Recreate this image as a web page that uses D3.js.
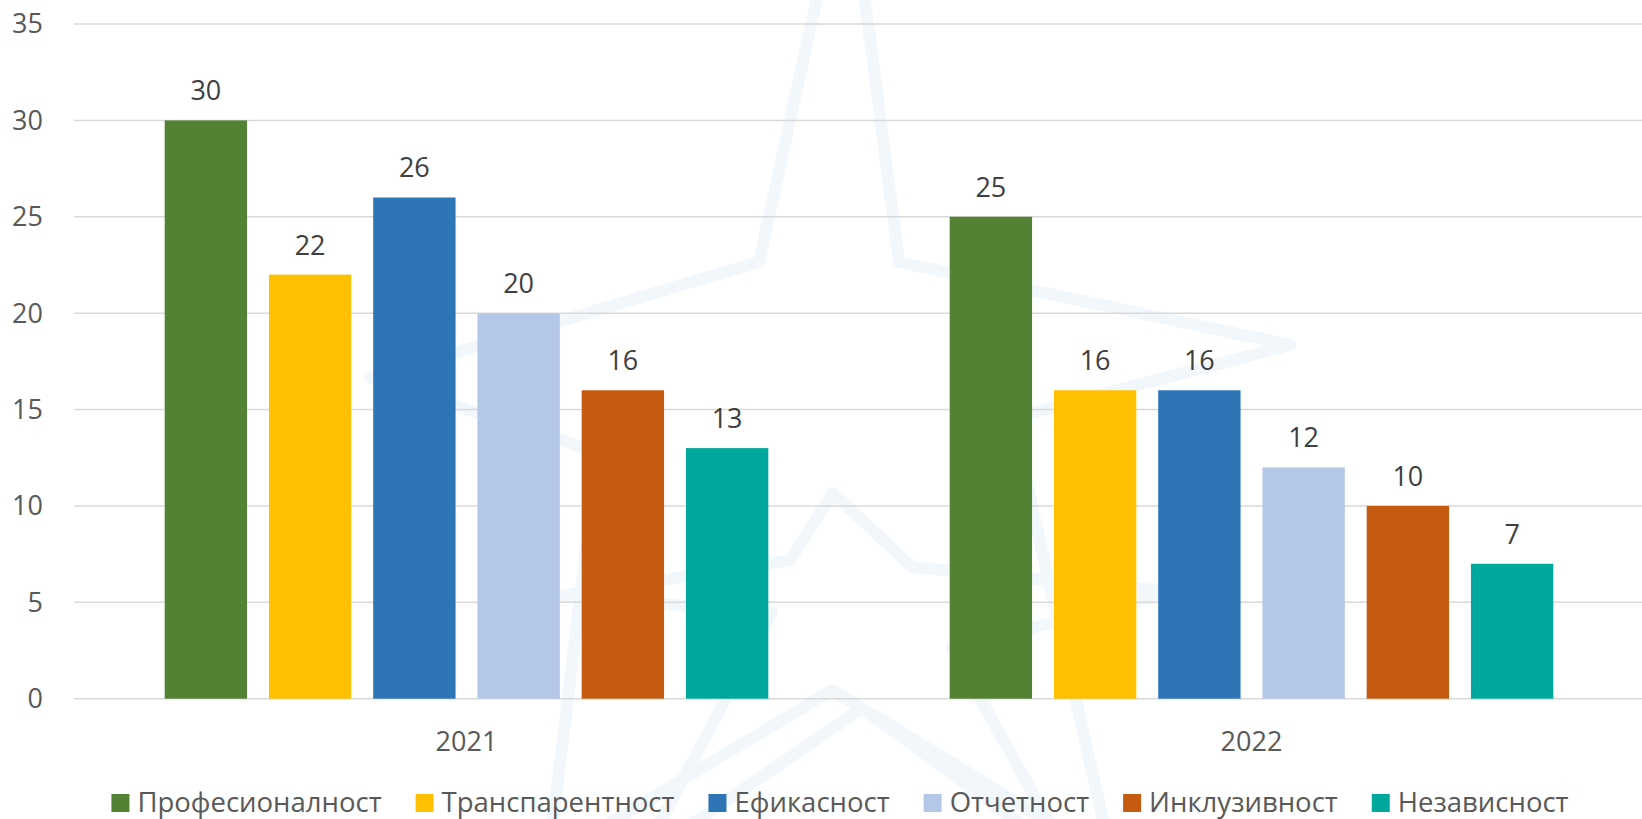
<!DOCTYPE html>
<html>
<head>
<meta charset="utf-8">
<script src="https://cdn.jsdelivr.net/npm/d3@7"></script>
<style>
  html, body { margin: 0; padding: 0; background: #fff; }
  svg { display: block; font-family: 'Open Sans', 'Noto Sans', sans-serif; }
</style>
</head>
<body>
<svg id="chart"></svg>
<script>
const years = ['2021', '2022'];
const seriesNames = ['Професионалност', 'Транспарентност', 'Ефикасност', 'Отчетност', 'Инклузивност', 'Независност'];
const values2021 = [30, 22, 26, 20, 16, 13];
const values2022 = [25, 16, 16, 12, 10, 7];
const seriesColors = ['#548235', '#FFC000', '#2E75B6', '#B4C7E7', '#C55A11', '#00A79D'];
const yTicks = [0, 5, 10, 15, 20, 25, 30, 35];

const width = 1642;
const height = 819;
const margin = { top: 24, right: -2, bottom: 120.3, left: 74 };

const svg = d3.select('#chart')
  .attr('width', width)
  .attr('height', height);

// faint star watermark in the background
const bigStar = [[823, -30], [759, 262], [370, 378], [598, 452], [548, 860], [832, 690], [1112, 860], [1012, 418], [1290, 345], [899, 262], [861, -30]];
const smallStar = [[833, 493], [912, 567], [1175, 592], [952, 648], [1070, 860], [862, 708], [640, 860], [772, 612], [560, 596], [790, 560]];

svg.append('g')
  .selectAll('path')
  .data([bigStar, smallStar])
  .join('path')
  .attr('d', d => d3.line().curve(d3.curveLinearClosed)(d))
  .attr('fill', 'none')
  .attr('stroke', '#F2F7FC')
  .attr('stroke-width', 12)
  .attr('stroke-linejoin', 'round');

const y = d3.scaleLinear()
  .domain([0, 35])
  .range([height - margin.bottom, margin.top]);

const x0 = d3.scaleBand()
  .domain(years)
  .range([margin.left, width - margin.right]);

const x1 = d3.scaleBand()
  .domain(seriesNames)
  .range([0, x0.bandwidth()])
  .paddingInner(0.21)
  .paddingOuter(0.87);

// gridlines
svg.append('g')
  .selectAll('line')
  .data(yTicks)
  .join('line')
  .attr('x1', margin.left)
  .attr('x2', width)
  .attr('y1', d => y(d))
  .attr('y2', d => y(d))
  .attr('stroke', '#D9D9D9')
  .attr('stroke-width', 1.5);

// y labels
svg.append('g')
  .selectAll('text')
  .data(yTicks)
  .join('text')
  .attr('x', 43)
  .attr('y', d => y(d))
  .attr('dy', '0.35em')
  .attr('text-anchor', 'end')
  .attr('font-size', 27)
  .attr('fill', '#595959')
  .text(d => d);

const rows = years.map((yr, i) => ({
  year: yr,
  values: (i === 0 ? values2021 : values2022).map((v, j) => ({ name: seriesNames[j], value: v, color: seriesColors[j] }))
}));

const group = svg.append('g')
  .selectAll('g')
  .data(rows)
  .join('g')
  .attr('transform', d => `translate(${x0(d.year)},0)`);

group.selectAll('rect')
  .data(d => d.values)
  .join('rect')
  .attr('x', d => x1(d.name))
  .attr('y', d => y(d.value))
  .attr('width', x1.bandwidth())
  .attr('height', d => y(0) - y(d.value))
  .attr('fill', d => d.color);

group.selectAll('text')
  .data(d => d.values)
  .join('text')
  .attr('x', d => x1(d.name) + x1.bandwidth() / 2)
  .attr('y', d => y(d.value) - 20)
  .attr('text-anchor', 'middle')
  .attr('font-size', 27)
  .attr('fill', '#404040')
  .text(d => d.value);

// category labels
svg.append('g')
  .selectAll('text')
  .data(years)
  .join('text')
  .attr('x', d => x0(d) + x0.bandwidth() / 2)
  .attr('y', 751)
  .attr('text-anchor', 'middle')
  .attr('font-size', 27)
  .attr('fill', '#595959')
  .text(d => d);

// legend
const legend = svg.append('g');
const items = legend.selectAll('g')
  .data(seriesNames)
  .join('g');

items.append('rect')
  .attr('width', 18)
  .attr('height', 18)
  .attr('y', 794)
  .attr('fill', (d, i) => seriesColors[i]);

items.append('text')
  .attr('x', 26)
  .attr('y', 812)
  .attr('font-size', 27.5)
  .attr('fill', '#595959')
  .text(d => d);

let offset = 0;
const itemX = [];
items.each(function () {
  const w = d3.select(this).select('text').node().getComputedTextLength();
  itemX.push(offset);
  offset += 26 + w + 34;
});
const legendWidth = offset - 34;
const legendStart = 840 - legendWidth / 2;
items.attr('transform', (d, i) => `translate(${legendStart + itemX[i]},0)`);
</script>
</body>
</html>
